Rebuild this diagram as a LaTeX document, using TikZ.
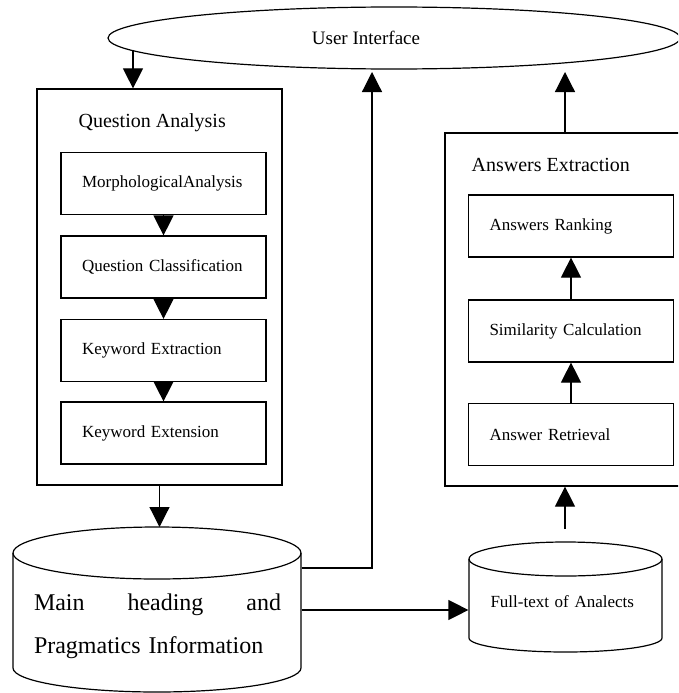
\documentclass[tikz,border=0pt]{standalone}
\usepackage{fontspec}
\setmainfont{Liberation Serif}
\usetikzlibrary{arrows.meta, shapes.geometric}

\begin{document}
\begin{tikzpicture}[x=1pt, y=-1pt, line width=1.2pt,
    box/.style={draw, minimum width=205pt, minimum height=62pt,
      inner xsep=21pt, text width=163pt, align=left,
      font=\fontsize{17}{20}\selectfont},
    frame/.style={draw, inner sep=0pt},
    title/.style={anchor=west, inner sep=0pt,
      font=\fontsize{20}{24}\selectfont},
    arr/.style={-{Triangle[width=20pt, length=20pt]}}]

    \useasboundingbox (0,0) rectangle (678,693);
    \clip (0,0) rectangle (678,693);

    % user interface on top
    \node [draw, ellipse, minimum width=572pt, minimum height=62pt,
      inner sep=0pt] (ui) at (394,38) {};

    \node [font=\fontsize{19}{22}\selectfont] (uitext) at (366,38)
      {User Interface};

    \coordinate (uileft) at (133,50);

    \coordinate (uibase) at (0,72);


    % question analysis
    \node [frame, minimum width=245pt, minimum height=396pt] (qa)
      at (159.5,287) {};

    \node [title] (qatitle) at (78,123) {Question Analysis};

    \node [box] (morph) at (163.5,183.5) {MorphologicalAnalysis};

    \node [box] (qclass) at (163.5,267) {Question Classification};

    \node [box] (kwextr) at (163.5,350.5) {Keyword Extraction};

    \node [box] (kwexten) at (163.5,433) {Keyword Extension};


    % answers extraction
    \node [frame, minimum width=240pt, minimum height=353pt] (ae)
      at (565,309.5) {};

    \node [title] (aetitle) at (471,165) {Answers Extraction};

    \node [box] (rank) at (571,226) {Answers Ranking};

    \node [box] (simcalc) at (571,331) {Similarity Calculation};

    \node [box] (retr) at (571,434.5) {Answer Retrieval};


    % the two databases
    \draw (13,553) -- (13,668)
      arc [start angle=180, end angle=360, x radius=144pt, y radius=24pt]
      -- (301,553);

    \draw (157,553) ellipse [x radius=144pt, y radius=26pt];

    \node [text width=247pt, align=left, inner xsep=20pt,
      font=\fontsize{24}{43}\selectfont] (kb) at (157.5,626.5)
      {Main\hfill heading\hfill and\\Pragmatics Information};

    \draw (469,559) -- (469,638)
      arc [start angle=180, end angle=360, x radius=96.5pt, y radius=14pt]
      -- (662,559);

    \draw (565.5,559) ellipse [x radius=96.5pt, y radius=17pt];

    \node [text width=150pt, align=left, inner xsep=21.5pt,
      font=\fontsize{17}{20}\selectfont] (ftext) at (565.5,602)
      {Full-text of Analects};

    \coordinate (uimid) at (372,72);


    % connectors
    \draw [arr] (uileft) -- (uileft |- qa.north);

    \draw [arr] (morph) -- (qclass);

    \draw [arr] (qclass) -- (kwextr);

    \draw [arr] (kwextr) -- (kwexten);

    \draw [arr] (qa.south) -- (qa.south |- 0,527);

    \draw [arr] (kb.east |- 0,568) -| (uimid);

    \draw [arr] (kb.east |- 0,610) -- (ftext.west |- 0,610);

    \draw [arr] (ae.south |- 0,529) -- (ae.south);

    \draw [arr] (retr) -- (simcalc);

    \draw [arr] (simcalc) -- (rank);

    \draw [arr] (ae.north) -- (ae.north |- uibase);

  \end{tikzpicture}
\end{document}
